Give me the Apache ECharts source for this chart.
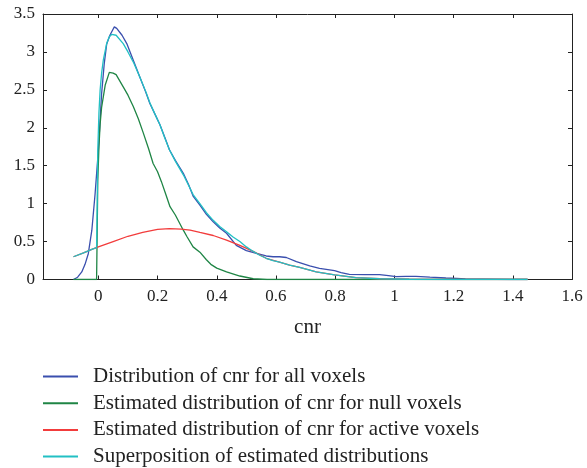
<!DOCTYPE html>
<html><head><meta charset="utf-8">
<script src="https://cdn.jsdelivr.net/npm/echarts@6/dist/echarts.min.js"></script>
<style>html,body{margin:0;padding:0;background:#fff}#c{width:587px;height:468px}</style>
</head><body><div id="c"></div>
<script>
const seriesNames = [
  "Distribution of cnr for all voxels",
  "Estimated distribution of cnr for null voxels",
  "Estimated distribution of cnr for active voxels",
  "Superposition of estimated distributions"
];
const xTicks = [0, 0.2, 0.4, 0.6, 0.8, 1, 1.2, 1.4, 1.6];

const allX = [-0.084,-0.07,-0.056,-0.045,-0.034,-0.022,-0.011,0,0.011,0.02,0.028,0.039,0.047,0.054,0.062,0.067,0.08,0.096,0.12,0.14,0.16,0.174,0.19,0.208,0.225,0.24,0.26,0.287,0.305,0.32,0.343,0.365,0.388,0.41,0.433,0.466,0.5,0.534,0.567,0.59,0.612,0.635,0.669,0.714,0.747,0.798,0.82,0.848,0.9,0.95,0.98,1.006,1.04,1.073,1.12,1.174,1.21,1.24,1.3,1.39,1.45];
const allY = [0,0.03,0.1,0.2,0.34,0.65,1.13,1.7,2.45,2.85,3.1,3.22,3.28,3.33,3.31,3.3,3.22,3.11,2.87,2.67,2.47,2.32,2.19,2.04,1.87,1.71,1.57,1.4,1.25,1.1,0.98,0.86,0.76,0.68,0.61,0.45,0.38,0.345,0.31,0.3,0.3,0.29,0.235,0.18,0.147,0.116,0.09,0.068,0.065,0.063,0.05,0.037,0.04,0.04,0.03,0.02,0.015,0.008,0.005,0,0];

const nullX = [-0.084,-0.006,-0.004,-0.002,0.002,0.006,0.011,0.023,0.037,0.05,0.06,0.084,0.1,0.118,0.135,0.152,0.17,0.185,0.2,0.213,0.228,0.242,0.26,0.287,0.3,0.32,0.343,0.365,0.38,0.4,0.433,0.478,0.523,0.57,1.45];
const nullY = [0,0,0.6,1.3,1.75,2.05,2.27,2.56,2.73,2.72,2.7,2.54,2.43,2.28,2.12,1.93,1.72,1.53,1.42,1.29,1.12,0.96,0.85,0.65,0.56,0.43,0.36,0.26,0.2,0.15,0.1,0.046,0.01,0,0];

const activeX = [-0.084,-0.05,-0.02,0,0.05,0.1,0.15,0.2,0.24,0.28,0.31,0.343,0.388,0.433,0.478,0.523,0.567,0.612,0.646,0.68,0.736,0.798,0.87,0.95,1.05,1.2,1.45];
const activeY = [0.3,0.35,0.4,0.43,0.5,0.57,0.62,0.66,0.67,0.665,0.65,0.62,0.58,0.52,0.45,0.37,0.28,0.23,0.19,0.16,0.1,0.06,0.025,0.01,0.003,0,0];

const sumX = [-0.084,-0.05,-0.02,-0.006,-0.004,-0.002,0.002,0.006,0.011,0.017,0.028,0.037,0.045,0.05,0.06,0.084,0.1,0.12,0.14,0.16,0.174,0.19,0.208,0.225,0.24,0.26,0.287,0.305,0.32,0.343,0.365,0.388,0.41,0.433,0.455,0.478,0.5,0.523,0.545,0.567,0.59,0.612,0.646,0.68,0.736,0.798,0.87,0.95,1.05,1.2,1.45];
const sumY = [0.3,0.35,0.4,0.42,1.0,1.7,2.2,2.5,2.72,2.9,3.11,3.2,3.23,3.24,3.22,3.11,3.0,2.85,2.67,2.48,2.33,2.19,2.04,1.86,1.71,1.56,1.38,1.24,1.12,1.0,0.88,0.78,0.7,0.63,0.56,0.5,0.43,0.37,0.32,0.28,0.25,0.23,0.19,0.16,0.1,0.06,0.025,0.01,0.003,0,0];

const colors = ["#3a4fae", "#1f8545", "#f23c3c", "#22c0c4"];
const zip = (xs, ys) => xs.map((x, i) => [x, ys[i]]);
const FONT = "Liberation Serif";

const chart = echarts.init(document.getElementById('c'), null, {renderer: 'canvas'});
const axisLine = {show: true, onZero: false, lineStyle: {color: '#222', width: 1}};
chart.setOption({
  animation: false,
  backgroundColor: '#fff',
  grid: {left: 43, right: 15, top: 14, bottom: 188.5, containLabel: false},
  xAxis: [{
    type: 'value', min: -0.187, max: 1.6, position: 'bottom',
    name: 'cnr', nameLocation: 'middle', nameGap: 37,
    nameTextStyle: {fontFamily: FONT, fontSize: 21, color: '#222'},
    axisLine: axisLine,
    axisTick: {inside: true, length: 4, customValues: xTicks, lineStyle: {color: '#222'}},
    axisLabel: {customValues: xTicks, formatter: v => String(v), fontFamily: FONT, fontSize: 17, color: '#222', margin: 9},
    splitLine: {show: false}
  }, {
    type: 'value', min: -0.187, max: 1.6, position: 'top',
    axisLine: axisLine,
    axisTick: {inside: true, length: 4, customValues: xTicks, lineStyle: {color: '#222'}},
    axisLabel: {show: false, customValues: xTicks},
    splitLine: {show: false}
  }],
  yAxis: [{
    type: 'value', min: 0, max: 3.5, interval: 0.5, position: 'left',
    axisLine: axisLine,
    axisTick: {inside: true, length: 4, lineStyle: {color: '#222'}},
    axisLabel: {fontFamily: FONT, fontSize: 17, color: '#222', margin: 8},
    splitLine: {show: false}
  }, {
    type: 'value', min: 0, max: 3.5, interval: 0.5, position: 'right',
    axisLine: axisLine,
    axisTick: {inside: true, length: 4, lineStyle: {color: '#222'}},
    axisLabel: {show: false},
    splitLine: {show: false}
  }],
  legend: {
    orient: 'vertical', left: 43, top: 366, height: 110, padding: 0,
    icon: 'rect', itemWidth: 35, itemHeight: 2, itemGap: 5.7,
    data: seriesNames,
    textStyle: {fontFamily: FONT, fontSize: 21, color: '#222', lineHeight: 20, padding: [0, 0, 0, 10]}
  },
  series: [
    {name: seriesNames[0], data: zip(allX, allY)},
    {name: seriesNames[1], data: zip(nullX, nullY)},
    {name: seriesNames[2], data: zip(activeX, activeY)},
    {name: seriesNames[3], data: zip(sumX, sumY)}
  ].map((s, i) => Object.assign(s, {
    type: 'line', showSymbol: false, smooth: false, clip: true,
    color: colors[i],
    lineStyle: {color: colors[i], width: 1.3}
  }))
});
</script>
</body></html>
